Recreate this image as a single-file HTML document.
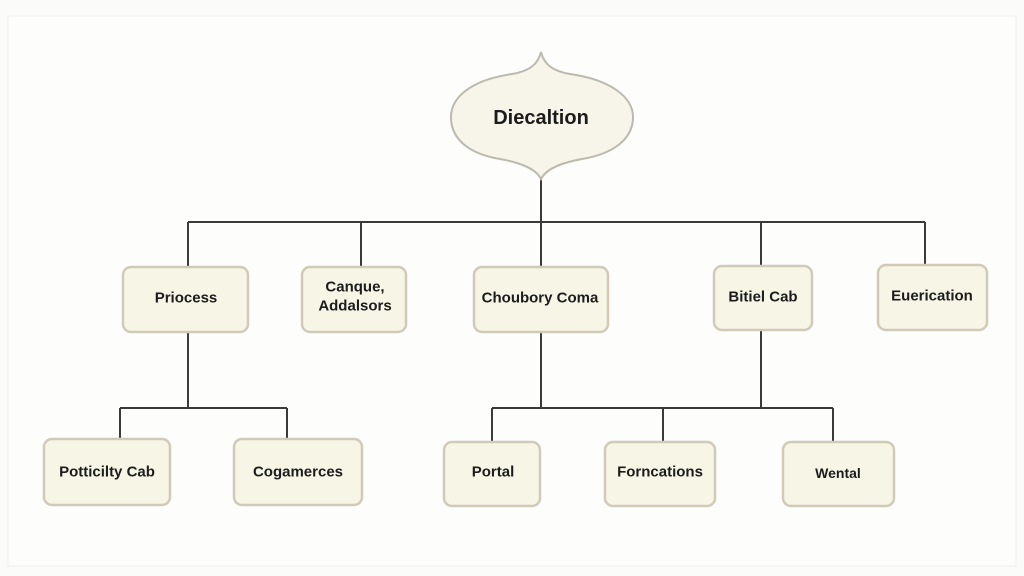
<!DOCTYPE html>
<html>
<head>
<meta charset="utf-8">
<style>
  html,body{margin:0;padding:0;background:#fbfbf9;}
  body{width:1024px;height:576px;overflow:hidden;}
  svg{display:block;}
  text{font-family:"Liberation Sans",Arial,sans-serif;font-weight:bold;fill:#1c1c1c;text-anchor:middle;dominant-baseline:central;}
</style>
</head>
<body>
<svg width="1024" height="576" viewBox="0 0 1024 576" xmlns="http://www.w3.org/2000/svg">
  <rect x="0" y="0" width="1024" height="576" fill="#fbfbf9"/>
  <rect x="8" y="16" width="1008" height="550" fill="#fdfdfb" stroke="#f1f1ee" stroke-width="1"/>

  <!-- connectors -->
  <g stroke="#3a3a3a" stroke-width="2" fill="none">
    <line x1="541" y1="178" x2="541" y2="222"/>
    <line x1="188" y1="222" x2="925" y2="222"/>
    <line x1="188" y1="222" x2="188" y2="267"/>
    <line x1="361" y1="222" x2="361" y2="267"/>
    <line x1="541" y1="222" x2="541" y2="267"/>
    <line x1="761" y1="222" x2="761" y2="266"/>
    <line x1="925" y1="222" x2="925" y2="265"/>

    <line x1="188" y1="332" x2="188" y2="408"/>
    <line x1="120" y1="408" x2="287" y2="408"/>
    <line x1="120" y1="408" x2="120" y2="439"/>
    <line x1="287" y1="408" x2="287" y2="439"/>

    <line x1="541" y1="332" x2="541" y2="408"/>
    <line x1="761" y1="330" x2="761" y2="408"/>
    <line x1="492" y1="408" x2="833" y2="408"/>
    <line x1="492" y1="408" x2="492" y2="442"/>
    <line x1="663" y1="408" x2="663" y2="442"/>
    <line x1="833" y1="408" x2="833" y2="442"/>
  </g>

  <!-- top shape -->
  <path d="M541,52 C544,64 552,71 570,74 C612,80 633,98 633,117 C633,140 612,154 582,159 C560,163 546,169 541,179 C536,169 522,163 500,159 C470,154 451,140 451,117 C451,98 470,80 512,74 C530,71 538,64 541,52 Z"
        fill="#f7f5e9" stroke="#bcb9ae" stroke-width="2"/>
  <text x="541" y="118" style="font-size:20px;">Diecaltion</text>

  <!-- level 1 boxes -->
  <g fill="#f7f5e6" stroke="#cfcbb8" stroke-width="2.5">
    <rect x="123" y="267" width="125" height="65" rx="8"/>
    <rect x="302" y="267" width="104" height="65" rx="8"/>
    <rect x="474" y="267" width="134" height="65" rx="8"/>
    <rect x="714" y="266" width="98" height="64" rx="8"/>
    <rect x="878" y="265" width="109" height="65" rx="8"/>
  </g>
  <text x="186" y="298" style="font-size:15px;">Priocess</text>
  <text x="355" y="287" style="font-size:15px;">Canque,</text>
  <text x="355" y="306" style="font-size:15px;">Addalsors</text>
  <text x="540" y="298" style="font-size:15px;">Choubory Coma</text>
  <text x="763" y="297" style="font-size:15px;">Bitiel Cab</text>
  <text x="932" y="296" style="font-size:15px;">Euerication</text>

  <!-- level 2 boxes -->
  <g fill="#f7f5e6" stroke="#cfcbb8" stroke-width="2.5">
    <rect x="44" y="439" width="126" height="66" rx="8"/>
    <rect x="234" y="439" width="128" height="66" rx="8"/>
    <rect x="444" y="442" width="96" height="64" rx="8"/>
    <rect x="605" y="442" width="110" height="64" rx="8"/>
    <rect x="783" y="442" width="111" height="64" rx="8"/>
  </g>
  <text x="107" y="472" style="font-size:15px;">Potticilty Cab</text>
  <text x="298" y="472" style="font-size:15px;">Cogamerces</text>
  <text x="493" y="472" style="font-size:15px;">Portal</text>
  <text x="660" y="472" style="font-size:15px;">Forncations</text>
  <text x="838" y="473" style="font-size:14px;">Wental</text>
</svg>
</body>
</html>
